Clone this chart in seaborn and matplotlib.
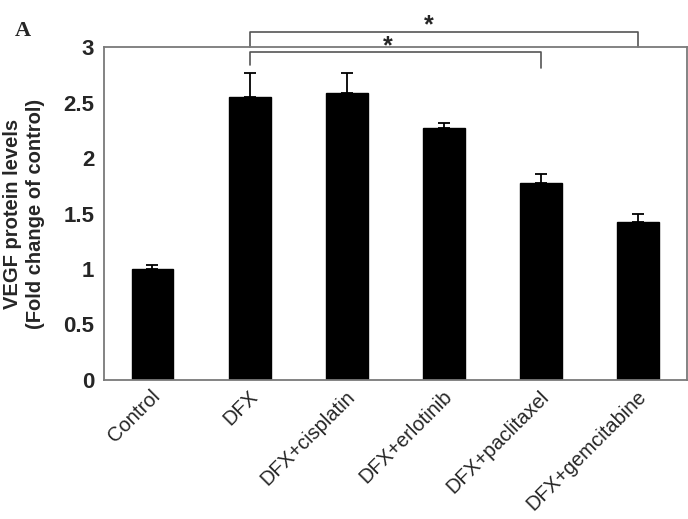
import numpy as np
import pandas as pd
import seaborn as sns
import matplotlib.pyplot as plt
from matplotlib.transforms import ScaledTranslation

# values
groups = ['Control', 'DFX', 'DFX+cisplatin', 'DFX+erlotinib', 'DFX+paclitaxel', 'DFX+gemcitabine']
vegf = [1.00, 2.55, 2.59, 2.27, 1.78, 1.42]
sem = [0.04, 0.22, 0.18, 0.05, 0.08, 0.08]

df = pd.DataFrame({'group': groups, 'vegf': vegf})

sns.set_style('white')
plt.rcParams['font.family'] = ['Liberation Sans', 'DejaVu Sans']

fig = plt.figure(figsize=(6.88, 5.19), dpi=100)
ax = fig.add_axes([0.151, 0.268, 0.8475, 0.641])

sns.barplot(data=df, x='group', y='vegf', color='black', width=0.43,
            errorbar=None, saturation=1, ax=ax)
for p in ax.patches:
    p.set_edgecolor('black')

xpos = np.arange(len(groups))
ax.errorbar(xpos, vegf, yerr=[np.zeros(len(sem)), sem], fmt='none',
            ecolor='black', elinewidth=1.3, capsize=4.5, capthick=1.3)

ax.set_xlim(-0.5, 5.5)
ax.set_ylim(0, 3)
ax.set_yticks([0, 0.5, 1, 1.5, 2, 2.5, 3])
ax.set_yticklabels(['0', '0.5', '1', '1.5', '2', '2.5', '3'], fontsize=16, fontweight='bold')
ax.set_xticks(xpos)
ax.set_xticklabels(groups, rotation=45, ha='right', va='center', rotation_mode='anchor', fontsize=14.5)
ax.tick_params(axis='x', length=0, pad=12)
# nudge the slanted labels a little up and right
shift = ScaledTranslation(0.05, 0.03, fig.dpi_scale_trans)
for lbl in ax.get_xticklabels():
    lbl.set_transform(lbl.get_transform() + shift)
ax.set_xticks(np.arange(0.5, 5.5, 1), minor=True)
ax.tick_params(axis='x', which='minor', direction='in', length=4, color='#888888', width=1)
ax.tick_params(axis='y', direction='in', length=4, color='#888888', width=1, pad=7)
ax.set_xlabel('')
ax.set_ylabel('VEGF protein levels\n(Fold change of control)', fontsize=14.5, fontweight='bold',
              linespacing=1.3, labelpad=13)

for s in ax.spines.values():
    s.set_color('#7a7a7a')
    s.set_linewidth(1.3)

# significance brackets
br = dict(color='#555555', lw=1.2, clip_on=False)
ax.plot([1, 1, 5, 5], [3.0, 3.14, 3.14, 3.0], **br)
ax.text(2.84, 3.2, '*', ha='center', va='center', fontsize=18, fontweight='bold')
ax.plot([1, 1, 4, 4], [2.84, 2.955, 2.955, 2.81], **br)
ax.text(2.42, 3.01, '*', ha='center', va='center', fontsize=18, fontweight='bold')

fig.text(0.022, 0.94, 'A', fontsize=16, fontweight='bold', family='Liberation Serif',
         ha='left', va='center')

fig.savefig('out.png', dpi=100)
